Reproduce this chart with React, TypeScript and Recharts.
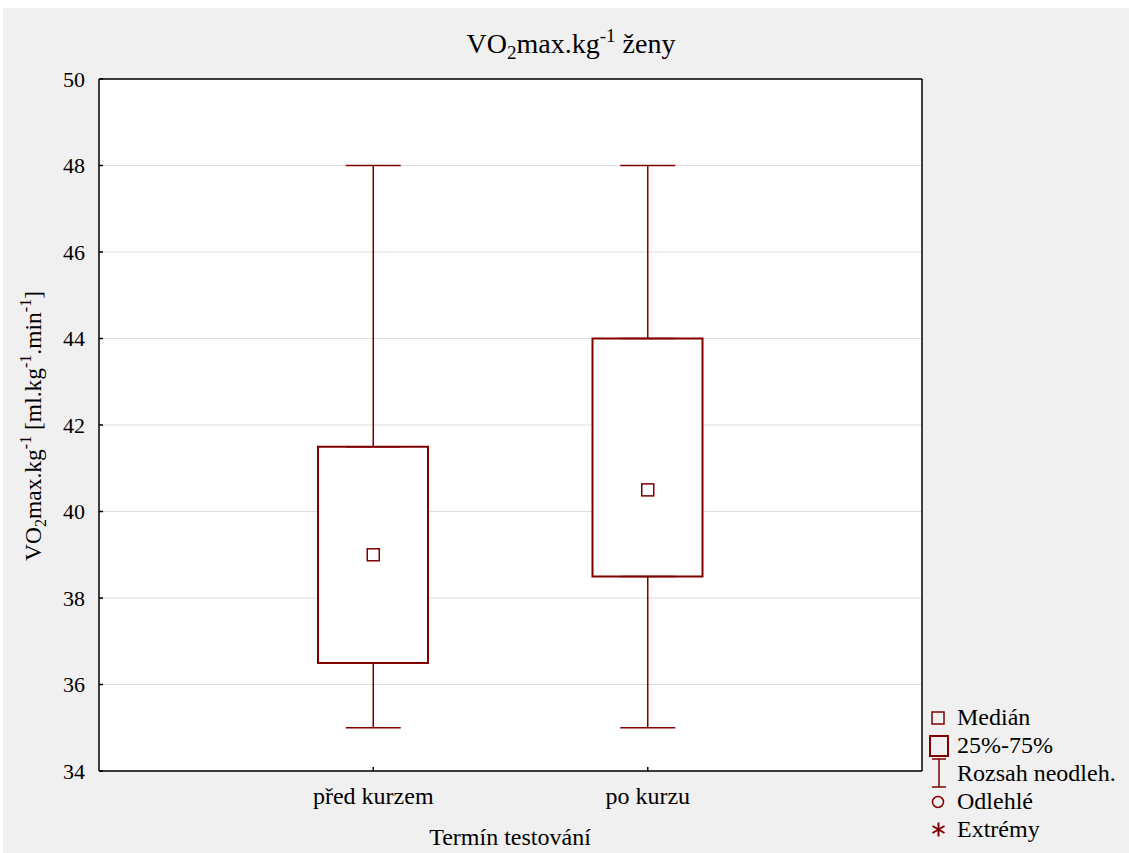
import React from 'react';
import { Bar, CartesianGrid, ComposedChart, ErrorBar, Scatter, XAxis, YAxis } from 'recharts';

const categories = ['před kurzem', 'po kurzu'];
const minValues = [35, 35];
const q1Values = [36.5, 38.5];
const medianValues = [39, 40.5];
const q3Values = [41.5, 44];
const maxValues = [48, 48];
const yTicks = [34, 36, 38, 40, 42, 44, 46, 48, 50];
const topTicks = [1, 2, 3];
const legendLabels = ['Medián', '25%-75%', 'Rozsah neodleh.', 'Odlehlé', 'Extrémy'];

const W = 1126;
const H = 845;
const RED = '#800000';
const FONT = '"Liberation Serif", "Times New Roman", serif';

const data = categories.map((name, i) => ({
  name,
  box: [q1Values[i], q3Values[i]],
  median: medianValues[i],
  q1: q1Values[i],
  q3: q3Values[i],
  upperErr: [0, maxValues[i] - q3Values[i]],
  lowerErr: [q1Values[i] - minValues[i], 0],
}));

const axisLine = { stroke: '#000', strokeWidth: 1.5 };
const yTickFont = { fontSize: 22, fill: '#000', fontFamily: FONT };
const xTickFont = { fontSize: 24, fill: '#000', fontFamily: FONT };

function EmptyShape() {
  return <g />;
}

function MedianSquare(props: any) {
  const { cx, cy } = props;
  return <rect x={cx - 6} y={cy - 6} width={12} height={12} fill="#fff" stroke={RED} strokeWidth={1.5} />;
}

/** Title, axis titles and the legend sit on top of the chart. */
function Overlay() {
  const rowY = [717, 745, 773, 801, 829];
  return (
    <svg width={W} height={H} style={{ position: 'absolute', left: 0, top: 0, pointerEvents: 'none' }}>
      <text x={568} y={45} textAnchor="middle" fontFamily={FONT} fontSize={28} fill="#000">
        VO<tspan fontSize={19} dy={6}>2</tspan>
        <tspan dy={-6}>max.kg</tspan>
        <tspan fontSize={19} dy={-11}>-1</tspan>
        <tspan dy={11}> ženy</tspan>
      </text>
      <text x={38} y={418} textAnchor="middle" fontFamily={FONT} fontSize={23.5} fill="#000"
        transform="rotate(-90, 38, 418)">
        VO<tspan fontSize={16} dy={5}>2</tspan>
        <tspan dy={-5}>max.kg</tspan>
        <tspan fontSize={16} dy={-10}>-1</tspan>
        <tspan dy={10}> [ml.kg</tspan>
        <tspan fontSize={16} dy={-10}>-1</tspan>
        <tspan dy={10}>.min</tspan>
        <tspan fontSize={16} dy={-10}>-1</tspan>
        <tspan dy={10}>]</tspan>
      </text>
      <text x={507} y={837} textAnchor="middle" fontFamily={FONT} fontSize={24} fill="#000">
        Termín testování
      </text>
      {/* legend icons */}
      <rect x={929} y={704} width={12} height={12} fill="none" stroke={RED} strokeWidth={1.5} />
      <rect x={927} y={728} width={18} height={20} fill="none" stroke={RED} strokeWidth={2} />
      <line x1={936} y1={751} x2={936} y2={779} stroke={RED} strokeWidth={1.5} />
      <line x1={929} y1={751} x2={943} y2={751} stroke={RED} strokeWidth={1.5} />
      <line x1={929} y1={779} x2={943} y2={779} stroke={RED} strokeWidth={1.5} />
      <circle cx={935} cy={794} r={5.5} fill="none" stroke={RED} strokeWidth={1.5} />
      <g stroke={RED} strokeWidth={2}>
        <line x1={935.5} y1={814.5} x2={935.5} y2={828.5} />
        <line x1={929.5} y1={818} x2={941.5} y2={825} />
        <line x1={929.5} y1={825} x2={941.5} y2={818} />
      </g>
      {legendLabels.map((label, i) => (
        <text key={label} x={954} y={rowY[i]} fontFamily={FONT} fontSize={24} fill="#000">
          {label}
        </text>
      ))}
    </svg>
  );
}

export default function App() {
  return (
    <div style={{ position: 'absolute', left: 3, top: 8, width: W, height: H, background: '#f0f0f0' }}>
      <ComposedChart width={W} height={H} data={data} margin={{ top: 70, right: 206, bottom: 52, left: 36 }}>
        <CartesianGrid vertical={false} stroke="#dddddd" fill="#ffffff" />
        <XAxis
          dataKey="name"
          padding={{ left: 137, right: 137 }}
          height={30}
          interval={0}
          tickSize={-4}
          tickMargin={20}
          tick={xTickFont}
          axisLine={axisLine}
          tickLine={axisLine}
        />
        <XAxis
          xAxisId="top"
          orientation="top"
          type="number"
          domain={[0, 4]}
          ticks={topTicks}
          height={1}
          tick={false}
          tickSize={-4}
          axisLine={axisLine}
          tickLine={axisLine}
        />
        <YAxis
          type="number"
          domain={[34, 50]}
          ticks={yTicks}
          width={60}
          interval={0}
          tickSize={-4}
          tickMargin={18}
          tick={yTickFont}
          axisLine={axisLine}
          tickLine={axisLine}
        />
        <YAxis
          yAxisId="right"
          orientation="right"
          type="number"
          domain={[34, 50]}
          ticks={yTicks}
          width={1}
          tick={false}
          tickSize={-4}
          axisLine={axisLine}
          tickLine={axisLine}
        />
        <Scatter dataKey="q3" shape={EmptyShape} isAnimationActive={false}>
          <ErrorBar dataKey="upperErr" direction="y" width={27.5} stroke={RED} strokeWidth={1.5} isAnimationActive={false} />
        </Scatter>
        <Scatter dataKey="q1" shape={EmptyShape} isAnimationActive={false}>
          <ErrorBar dataKey="lowerErr" direction="y" width={27.5} stroke={RED} strokeWidth={1.5} isAnimationActive={false} />
        </Scatter>
        <Bar dataKey="box" barSize={110} fill="#ffffff" stroke={RED} strokeWidth={2} isAnimationActive={false} />
        <Scatter dataKey="median" shape={MedianSquare} isAnimationActive={false} />
      </ComposedChart>
      <Overlay />
    </div>
  );
}
